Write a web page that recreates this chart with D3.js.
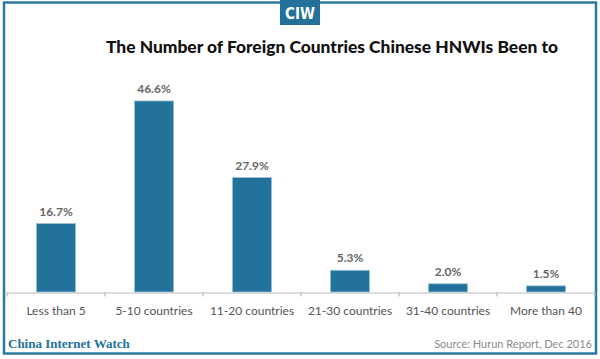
<!DOCTYPE html>
<html><head><meta charset="utf-8">
<script src="https://cdn.jsdelivr.net/npm/d3@7"></script>
<style>body{margin:0;background:#fff}svg{display:block}</style>
</head><body>
<svg id="c" width="600" height="359"></svg>
<script>
const categories = ["Less than 5","5-10 countries","11-20 countries","21-30 countries","31-40 countries","More than 40"];
const values = [16.7, 46.6, 27.9, 5.3, 2.0, 1.5];
const valueLabels = ["16.7%","46.6%","27.9%","5.3%","2.0%","1.5%"];
const title = "The Number of Foreign Countries Chinese HNWIs Been to";
const brand = "CIW";
const footerLeft = "China Internet Watch";
const footerRight = "Source: Hurun Report, Dec 2016";

const svg = d3.select("#c");
const blue = "#22729b";

// frame
svg.append("rect").attr("x",4).attr("y",2.5).attr("width",592).attr("height",351)
  .attr("fill","none").attr("stroke","#2a7ba1").attr("stroke-width",2.5);
// brand box
svg.append("rect").attr("x",280).attr("y",0).attr("width",40).attr("height",25).attr("fill","#23719b");
svg.append("text").attr("x",300).attr("y",19).attr("text-anchor","middle")
  .attr("font-family","DejaVu Sans Condensed, DejaVu Sans").attr("font-stretch","condensed")
  .attr("font-weight","bold").attr("font-size",15).attr("fill","#fff").text(brand);

// title
svg.append("text").attr("x",106).attr("y",53)
  .attr("font-family","Lato, sans-serif").attr("font-weight","900").attr("font-size",16.5)
  .attr("fill","#111").attr("textLength",452).attr("lengthAdjust","spacingAndGlyphs").text(title);

const x = d3.scaleBand().domain(categories).range([7,595]).paddingInner(0.6).paddingOuter(0.3);
const y = d3.scaleLinear().domain([0,50]).range([292,87]);

const g = svg.append("g");
g.selectAll("rect.bar").data(values).join("rect").attr("class","bar")
  .attr("x",(d,i)=>x(categories[i])).attr("width",x.bandwidth())
  .attr("y",d=>y(d)).attr("height",d=>y(0)-y(d))
  .attr("fill",blue).attr("stroke","#9cc3d6").attr("stroke-width",0.8);

g.selectAll("text.val").data(values).join("text").attr("class","val")
  .attr("x",(d,i)=>x(categories[i])+x.bandwidth()/2).attr("y",d=>y(d)-8)
  .attr("text-anchor","middle").attr("font-family","Lato, sans-serif").attr("font-weight","bold")
  .attr("font-size",12).attr("fill","#666").text((d,i)=>valueLabels[i]);

// axis
const axis = d3.axisBottom(x).tickSize(0).tickPadding(14);
const ag = svg.append("g").attr("transform","translate(0,292.5)").call(axis);
ag.select(".domain").attr("stroke","#bbb").attr("stroke-width",1.2);
ag.selectAll("text").attr("font-family","Lato, sans-serif").attr("font-size",12).attr("fill","#555");
const bounds = d3.range(categories.length+1).map(i=>7+ i*(588/categories.length));
ag.selectAll("line.b").data(bounds).join("line").attr("class","b")
  .attr("x1",d=>d).attr("x2",d=>d).attr("y1",0).attr("y2",4).attr("stroke","#aaa");

// footer
svg.append("text").attr("x",8).attr("y",348).attr("font-family","Liberation Serif, serif")
  .attr("font-weight","bold").attr("font-size",13).attr("fill","#22729b").text(footerLeft);
svg.append("text").attr("x",592).attr("y",348).attr("text-anchor","end")
  .attr("font-family","Lato, sans-serif").attr("font-size",11).attr("fill","#8a8a8a").text(footerRight);
</script>
</body></html>
